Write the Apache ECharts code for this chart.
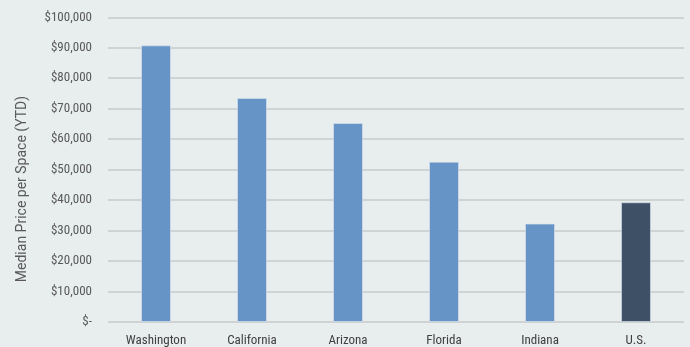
<!DOCTYPE html>
<html><head><meta charset="utf-8">
<script src="https://cdn.jsdelivr.net/npm/echarts@6/dist/echarts.min.js"></script>
<style>html,body{margin:0;padding:0;background:#E8EDED;}#c{width:690px;height:347px;}</style>
</head><body><div id="c"></div>
<script>
const categories = ['Washington','California','Arizona','Florida','Indiana','U.S.'];
const values = [90800, 73500, 65300, 52600, 32300, 39300];
const barColors = ['#6794C6','#6794C6','#6794C6','#6794C6','#6794C6','#3E5066'];
const yMin = 0, yMax = 100000, yInterval = 10000;
const yAxisTitle = 'Median Price per Space (YTD)';
const font = "'Liberation Sans Narrow','Roboto Condensed','Arial Narrow',Roboto,sans-serif";
const chart = echarts.init(document.getElementById('c'));
chart.setOption({
  backgroundColor: '#E8EDED',
  animation: false,
  grid: {left: 108, right: 6, top: 17.3, bottom: 23.7},
  graphic: [{
    type: 'text', x: 22, y: 189, rotation: Math.PI / 2,
    style: {text: yAxisTitle, fill: '#595959', font: "14px Roboto, sans-serif",
            align: 'center', verticalAlign: 'middle'}
  }],
  xAxis: {
    type: 'category', data: categories,
    axisLine: {show: false}, axisTick: {show: false},
    axisLabel: {color: '#404040', fontFamily: font, fontSize: 13, margin: 12}
  },
  yAxis: {
    type: 'value', min: yMin, max: yMax, interval: yInterval,
    axisLine: {show: false}, axisTick: {show: false},
    splitLine: {lineStyle: {color: '#CFD3D3', width: 2}},
    axisLabel: {
      color: '#595959', fontFamily: font, fontSize: 13, margin: 16,
      formatter: v => v === 0 ? '$-' : '$' + v.toLocaleString('en-US')
    }
  },
  series: [{
    type: 'bar', barWidth: 30,
    data: values.map((v, i) => ({value: v, itemStyle: {color: barColors[i]}})),
    itemStyle: {borderColor: 'rgba(220,230,240,0.6)', borderWidth: 1}
  }]
});
</script></body></html>
